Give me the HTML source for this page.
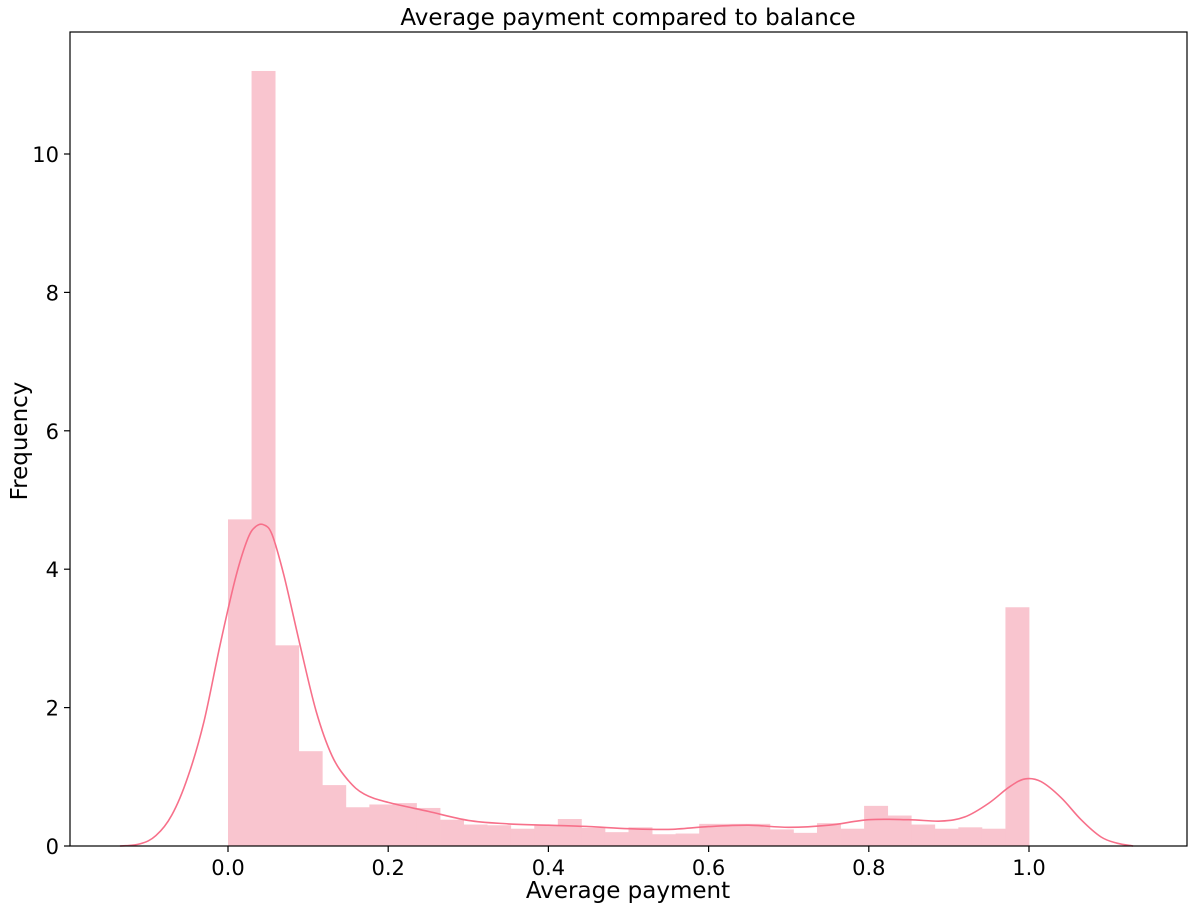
<!DOCTYPE html>
<html><head><meta charset="utf-8">
<style>
html,body{margin:0;padding:0;background:#fff;}
svg{display:block;font-family:"DejaVu Sans","Liberation Sans",sans-serif;}
</style></head>
<body>
<svg id="chart" width="1193" height="910" xmlns="http://www.w3.org/2000/svg">
<rect x="0" y="0" width="1193" height="910" fill="#fff"/>
<text x="628" y="25" text-anchor="middle" font-size="23" fill="#000">Average payment compared to balance</text>
<g id="bars"></g>
<g id="kde"></g>
<g id="xticks"></g>
<g id="yticks"></g>
<rect x="70" y="32" width="1117" height="814" fill="none" stroke="#000" stroke-width="1.2"/>
<text x="628" y="898" text-anchor="middle" font-size="23" fill="#000">Average payment</text>
<text transform="translate(27,441) rotate(-90)" text-anchor="middle" font-size="23" fill="#000">Frequency</text>
</svg>
<script>
const binValues = [4.72,11.2,2.9,1.37,0.88,0.56,0.6,0.62,0.55,0.38,0.31,0.3,0.25,0.3,0.39,0.26,0.2,0.27,0.17,0.18,0.32,0.32,0.32,0.24,0.19,0.33,0.25,0.58,0.44,0.31,0.25,0.27,0.25,3.45];
const binStart = 0, binEnd = 1;
const kdeX = [-0.135,-0.11,-0.09,-0.07,-0.05,-0.03,-0.01,0.01,0.025,0.035,0.045,0.055,0.07,0.09,0.11,0.13,0.15,0.17,0.2,0.25,0.3,0.35,0.4,0.45,0.5,0.55,0.6,0.65,0.7,0.75,0.8,0.85,0.89,0.92,0.95,0.975,0.995,1.015,1.04,1.065,1.09,1.11,1.13];
const kdeY = [0.0,0.03,0.15,0.45,1.0,1.8,2.9,3.9,4.45,4.62,4.64,4.5,3.9,2.9,1.95,1.3,0.95,0.75,0.63,0.5,0.37,0.32,0.3,0.28,0.25,0.24,0.28,0.3,0.27,0.3,0.38,0.38,0.36,0.42,0.62,0.85,0.97,0.93,0.7,0.38,0.13,0.04,0.0];
const xTicks = [0.0,0.2,0.4,0.6,0.8,1.0];
const xTickLabels = ["0.0","0.2","0.4","0.6","0.8","1.0"];
const yTicks = [0,2,4,6,8,10];
const yTickLabels = ["0","2","4","6","8","10"];

const NS="http://www.w3.org/2000/svg";
function sx(v){return 228 + v*801;}
function sy(v){return 846 - v*69.2;}
function mk(tag,attrs,parent){const e=document.createElementNS(NS,tag);for(const k in attrs)e.setAttribute(k,attrs[k]);parent.appendChild(e);return e;}

const bars=document.getElementById('bars');
const w=(binEnd-binStart)/binValues.length;
binValues.forEach((v,i)=>{
  const x0=sx(binStart+i*w), x1=sx(binStart+(i+1)*w);
  const r=mk('rect',{x:x0,y:sy(v),width:x1-x0+0.4,height:sy(0)-sy(v),fill:'#f9c5cf'},bars);
  
  
});
const kde=document.getElementById('kde');
const P=kdeX.map((x,i)=>[sx(x),sy(kdeY[i])]);
let d='M'+P[0][0].toFixed(1)+','+P[0][1].toFixed(1);
for(let i=0;i<P.length-1;i++){
  const p0=P[Math.max(0,i-1)],p1=P[i],p2=P[i+1],p3=P[Math.min(P.length-1,i+2)];
  const c1=[p1[0]+(p2[0]-p0[0])/6,p1[1]+(p2[1]-p0[1])/6];
  const c2=[p2[0]-(p3[0]-p1[0])/6,p2[1]-(p3[1]-p1[1])/6];
  d+=' C'+c1[0].toFixed(1)+','+c1[1].toFixed(1)+' '+c2[0].toFixed(1)+','+c2[1].toFixed(1)+' '+p2[0].toFixed(1)+','+p2[1].toFixed(1);
}
const pl=mk('path',{d:d,fill:'none',stroke:'#f7708a','stroke-width':1.6},kde);



const xg=document.getElementById('xticks');
xTicks.forEach((t,i)=>{
  const l=mk('line',{x1:sx(t),x2:sx(t),y1:846,y2:852,stroke:'#000','stroke-width':1.2},xg);
  
  
  const tx=mk('text',{x:sx(t),y:875,'text-anchor':'middle','font-size':21,fill:'#000'},xg);
  tx.textContent=xTickLabels[i];
  
  
});
const yg=document.getElementById('yticks');
yTicks.forEach((t,i)=>{
  const l=mk('line',{x1:64,x2:70,y1:sy(t),y2:sy(t),stroke:'#000','stroke-width':1.2},yg);
  
  
  const tx=mk('text',{x:59,y:sy(t)+8,'text-anchor':'end','font-size':21,fill:'#000'},yg);
  tx.textContent=yTickLabels[i];
  
  
});
</script>
</body></html>
